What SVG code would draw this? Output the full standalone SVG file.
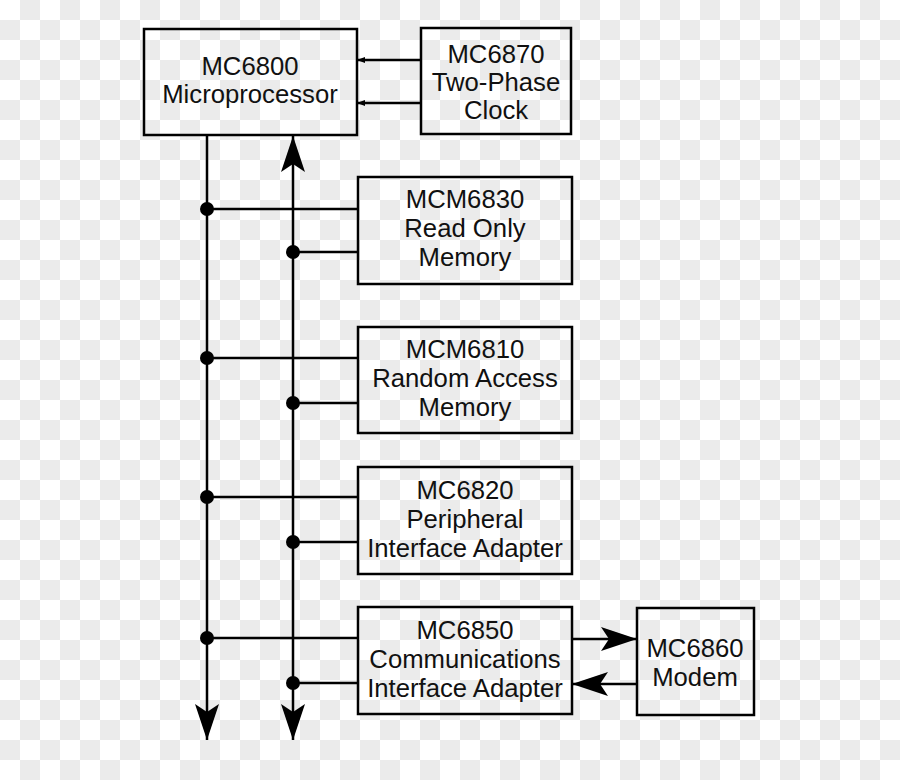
<svg xmlns="http://www.w3.org/2000/svg" width="900" height="780" viewBox="0 0 900 780">
<defs>
<pattern id="checker" x="0" y="0" width="40" height="40" patternUnits="userSpaceOnUse">
<rect width="40" height="40" fill="#ffffff"/>
<rect x="20" y="0" width="20" height="20" fill="#ebebeb"/>
<rect x="0" y="20" width="20" height="20" fill="#ebebeb"/>
</pattern>
<marker id="big" viewBox="0 0 36 24" markerWidth="36" markerHeight="24" refX="36" refY="12" orient="auto" markerUnits="userSpaceOnUse">
<path d="M0,0 L36,12 L0,24 L8,12 Z" fill="#000"/>
</marker>
<marker id="small" viewBox="0 0 8 6" markerWidth="8" markerHeight="6" refX="8" refY="3" orient="auto" markerUnits="userSpaceOnUse">
<path d="M0,0 L8,3 L0,6 Z" fill="#000"/>
</marker>
<style>
.box{fill:none;stroke:#000;stroke-width:2.5}
.ln{fill:none;stroke:#000;stroke-width:2.5}
.dot{fill:#000}
text{font-family:"Liberation Sans",Arial,sans-serif;font-size:25.7px;fill:#111;text-anchor:middle}
</style>
</defs>
<rect width="900" height="780" fill="url(#checker)"/>
<g id="connectors">
<line class="ln" x1="421" y1="60" x2="357" y2="60" marker-end="url(#small)"/>
<line class="ln" x1="421" y1="103" x2="357" y2="103" marker-end="url(#small)"/>
<line class="ln" x1="207" y1="135" x2="207" y2="740" marker-end="url(#big)"/>
<line class="ln" x1="293" y1="300" x2="293" y2="136" marker-end="url(#big)"/>
<line class="ln" x1="293" y1="300" x2="293" y2="740" marker-end="url(#big)"/>
<line class="ln" x1="207" y1="209" x2="358" y2="209"/>
<line class="ln" x1="293" y1="252" x2="358" y2="252"/>
<line class="ln" x1="207" y1="358" x2="358" y2="358"/>
<line class="ln" x1="293" y1="403" x2="358" y2="403"/>
<line class="ln" x1="207" y1="497" x2="358" y2="497"/>
<line class="ln" x1="293" y1="542" x2="358" y2="542"/>
<line class="ln" x1="207" y1="638" x2="358" y2="638"/>
<line class="ln" x1="293" y1="683" x2="358" y2="683"/>
<line class="ln" x1="572" y1="639" x2="637" y2="639" marker-end="url(#big)"/>
<line class="ln" x1="637" y1="684" x2="572" y2="684" marker-end="url(#big)"/>
<circle class="dot" cx="207" cy="209" r="7"/>
<circle class="dot" cx="293" cy="252" r="7"/>
<circle class="dot" cx="207" cy="358" r="7"/>
<circle class="dot" cx="293" cy="403" r="7"/>
<circle class="dot" cx="207" cy="497" r="7"/>
<circle class="dot" cx="293" cy="542" r="7"/>
<circle class="dot" cx="207" cy="638" r="7"/>
<circle class="dot" cx="293" cy="683" r="7"/>
</g>
<g id="cpu">
<rect class="box" x="144" y="29" width="213" height="106"/>
<text x="250" y="75">MC6800</text>
<text x="250" y="103">Microprocessor</text>
</g>
<g id="clock">
<rect class="box" x="421" y="28" width="150" height="106"/>
<text x="496" y="63">MC6870</text>
<text x="496" y="91">Two-Phase</text>
<text x="496" y="119">Clock</text>
</g>
<g id="rom">
<rect class="box" x="358" y="177" width="214" height="107"/>
<text x="465" y="208">MCM6830</text>
<text x="465" y="237">Read Only</text>
<text x="465" y="266">Memory</text>
</g>
<g id="ram">
<rect class="box" x="358" y="327" width="214" height="106"/>
<text x="465" y="358">MCM6810</text>
<text x="465" y="387">Random Access</text>
<text x="465" y="416">Memory</text>
</g>
<g id="pia">
<rect class="box" x="358" y="467" width="214" height="107"/>
<text x="465" y="499">MC6820</text>
<text x="465" y="528">Peripheral</text>
<text x="465" y="557">Interface Adapter</text>
</g>
<g id="acia">
<rect class="box" x="358" y="607" width="214" height="107"/>
<text x="465" y="639">MC6850</text>
<text x="465" y="668">Communications</text>
<text x="465" y="697">Interface Adapter</text>
</g>
<g id="modem">
<rect class="box" x="637" y="608" width="117" height="107"/>
<text x="695" y="657">MC6860</text>
<text x="695" y="686">Modem</text>
</g>
</svg>
